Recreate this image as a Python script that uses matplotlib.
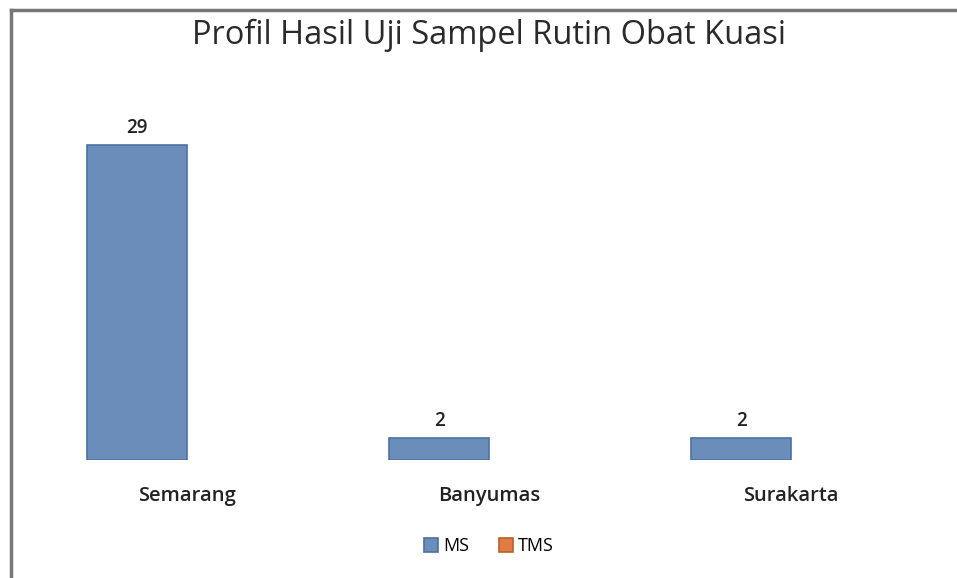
import matplotlib
matplotlib.use("Agg")
import matplotlib.pyplot as plt
import numpy as np
from matplotlib.patches import Patch
from matplotlib.lines import Line2D

categories = ["Semarang", "Banyumas", "Surakarta"]
ms_values = [29, 2, 2]
tms_values = [0, 0, 0]
series_names = ["MS", "TMS"]
title = "Profil Hasil Uji Sampel Rutin Obat Kuasi"

plt.rcParams['font.family'] = ['Open Sans', 'DejaVu Sans']

W, H = 957, 578
fig = plt.figure(figsize=(W / 100, H / 100), dpi=100)
fig.patch.set_facecolor("white")

ax = fig.add_axes([36 / W, 1 - 460 / H, (942 - 36) / W, (460 - 80) / H])
x = np.arange(len(categories))
w = 0.33
ms_color, ms_edge = "#6B8DBA", "#4A72A0"
tms_color, tms_edge = "#E07B45", "#B8602A"

bars_ms = ax.bar(x - w / 2, ms_values, w, color=ms_color, edgecolor=ms_edge, linewidth=1.2)
bars_tms = ax.bar(x + w / 2, tms_values, w, color=tms_color, edgecolor=tms_edge, linewidth=0)

for b, v in zip(bars_ms, ms_values):
    ax.annotate(str(v), (b.get_x() + b.get_width() / 2, v), xytext=(0, 5),
                textcoords="offset points", ha="center", va="bottom",
                fontsize=13.5, fontweight="semibold", color="#222222")

ax.set_xlim(-0.5, len(categories) - 0.5)
ax.set_ylim(0, 35)
ax.set_xticks(x)
ax.set_xticklabels(categories, fontsize=14.5, fontweight="semibold", color="#222222")
ax.tick_params(axis="x", length=0, pad=19)
ax.set_yticks([])
for s in ax.spines.values():
    s.set_visible(False)

fig.text(489 / W, 1 - 35 / H, title, ha="center", va="center", fontsize=23.5, color="#2a2a2a")

handles = [Patch(facecolor=ms_color, edgecolor=ms_edge, linewidth=1.2),
           Patch(facecolor=tms_color, edgecolor=tms_edge, linewidth=1.2)]
fig.legend(handles, series_names, loc="center", bbox_to_anchor=(489 / W, 1 - 546 / H),
           ncol=2, frameon=False, handlelength=0.8, handleheight=0.8,
           handletextpad=0.3, columnspacing=1.6, prop={"size": 13})

# chart frame (top and left edges)
fig.add_artist(Line2D([11 / W, 1.0], [1 - 9.5 / H, 1 - 9.5 / H], color="#777777", linewidth=2.5))
fig.add_artist(Line2D([11 / W, 11 / W], [0.0, 1 - 9.5 / H], color="#777777", linewidth=2.5))

fig.savefig("out.png", dpi=100, facecolor="white")
